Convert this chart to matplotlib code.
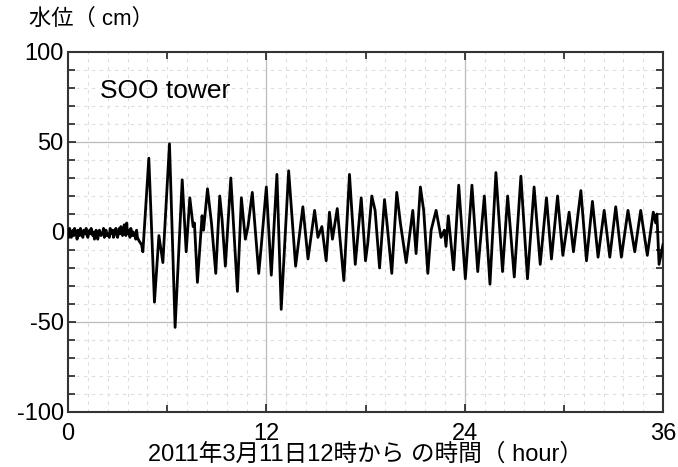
import numpy as np
import matplotlib.pyplot as plt
from matplotlib.ticker import FixedLocator

plt.rcParams['font.family'] = ['Liberation Sans', 'Noto Sans CJK JP', 'DejaVu Sans']
plt.rcParams['axes.unicode_minus'] = False

# Niveau d'eau (heures depuis 2011-03-11 12h, cm)
noise_t = [0.0, 0.05, 0.1, 0.15, 0.2, 0.3, 0.35, 0.4, 0.5, 0.55, 0.6, 0.7, 0.75, 0.8,
           0.9, 0.95, 1.0, 1.1, 1.15, 1.2, 1.3, 1.35, 1.4, 1.5, 1.55, 1.6, 1.7, 1.75,
           1.8, 1.9, 1.95, 2.0, 2.1, 2.15, 2.2, 2.3, 2.35, 2.4, 2.5, 2.55, 2.6, 2.7,
           2.75, 2.8, 2.9, 2.95, 3.0, 3.1, 3.15, 3.2, 3.3, 3.35, 3.4, 3.5, 3.55, 3.6,
           3.7, 3.75, 3.8, 3.9, 3.95, 4.0, 4.1, 4.15, 4.2, 4.3]
noise_v = [0, -3, 2, -1, -3, 1, -2, 2, -1, -4, 1, -2, 2, -1,
           -3, 1, -1, 2, -2, -3, 1, -1, 2, -2, 0, -4, 1, -2,
           -4, 1, -1, -2, 0, 2, -3, 1, -2, -1, -3, 2, -1, 1,
           -3, 0, 2, -2, -3, 2, -1, 3, -2, 1, 4, -2, 5, -1,
           1, -3, 2, -2, 0, -1, -4, 1, -3, -5]

wave_t = [4.45, 4.53, 4.89, 5.23, 5.5, 5.74, 6.14, 6.48, 6.91, 7.15, 7.37, 7.57, 7.65,
          7.83, 8.11, 8.2, 8.44, 8.68, 8.94, 9.18, 9.32, 9.52, 9.85, 10.25, 10.49,
          10.73, 10.89, 11.15, 11.54, 11.7, 12.0, 12.3, 12.64, 12.9, 13.35, 13.77,
          14.21, 14.52, 14.92, 15.12, 15.36, 15.62, 15.82, 16.0, 16.29, 16.69, 17.03,
          17.38, 17.74, 18.0, 18.14, 18.38, 18.58, 18.85, 19.15, 19.31, 19.59, 19.89,
          20.11, 20.32, 20.46, 20.86, 21.06, 21.32, 21.52, 21.77, 21.97, 22.27, 22.57,
          22.77, 22.87, 23.01, 23.33, 23.64, 24.04, 24.44, 24.79, 25.19, 25.53, 25.89,
          26.29, 26.6, 27.0, 27.4, 27.8, 28.2, 28.57, 28.95, 29.25, 29.62, 29.94,
          30.32, 30.58, 31.03, 31.37, 31.73, 32.07, 32.44, 32.78, 33.14, 33.48, 33.88,
          34.29, 34.65, 35.05, 35.41, 35.56, 35.63, 35.76, 36.0]
wave_v = [-7, -11, 41, -39, -2, -17, 49, -53, 29, -11, 19, 3, 5,
          -28, 9, 1, 24, 5, -23, 20, 7, -19, 30, -33, 19,
          -4, 3, 22, -23, -7, 25, -24, 32, -43, 34, -19,
          14, -15, 12, -3, 3, -16, 11, -4, 13, -27, 32,
          -18, 19, -16, -6, 20, 12, -20, 18, 4, -23, 22,
          5, -8, -17, 12, -12, 25, 12, -23, 1, 12, -3,
          1, -8, 9, -21, 26, -26, 26, -22, 20, -29, 33,
          -22, 20, -25, 31, -26, 25, -18, 19, -15, 20, -13,
          11, -11, 23, -16, 17, -14, 12, -14, 14, -14, 12,
          -11, 12, -13, 11, 5, 10, -18, -7]

hours = noise_t + wave_t
level = noise_v + wave_v

fig = plt.figure(figsize=(6.78, 4.67), dpi=100)
ax = fig.add_axes([0.1003, 0.1178, 0.8776, 0.7709])

# grille secondaire en pointillés
grid_c = '#dedede'
for gx in np.arange(0, 36.01, 1.2):
    ax.axvline(gx, color=grid_c, lw=0.8, ls=(0, (3, 4)), zorder=0)
for gy in np.arange(-100, 101, 10):
    ax.axhline(gy, color=grid_c, lw=0.8, ls=(0, (3, 4)), zorder=0)
# grille principale
for gx in [12, 24]:
    ax.axvline(gx, color='#bdbdbd', lw=0.9, zorder=1)
for gy in [-50, 0, 50]:
    ax.axhline(gy, color='#bdbdbd', lw=0.9, zorder=1)

ax.plot(hours, level, color='black', lw=2.0, zorder=3)

ax.set_xlim(0, 36)
ax.set_ylim(-100, 100)
ax.set_xticks([0, 12, 24, 36])
ax.set_yticks([-100, -50, 0, 50, 100])
ax.xaxis.set_minor_locator(FixedLocator([6, 18, 30]))
ax.yaxis.set_minor_locator(FixedLocator(list(range(-90, 100, 10))))
ax.tick_params(which='both', direction='in', top=True, right=True,
               color='#222222', width=1.2, labelsize=17)
ax.tick_params(axis='y', pad=3)
ax.tick_params(axis='x', pad=8)
ax.tick_params(which='major', length=6)
ax.tick_params(which='minor', length=5)
for sp in ax.spines.values():
    sp.set_color('#333333')
    sp.set_linewidth(1.5)

ax.text(0.054, 0.872, 'SOO tower', transform=ax.transAxes, fontsize=19)

ax.set_xlabel('2011年3月11日12時から の時間（ hour）', fontsize=17, labelpad=-1)
fig.text(0.043, 0.958, '水位（ cm）', fontsize=16, va='center')

plt.savefig('out.png', dpi=100)
